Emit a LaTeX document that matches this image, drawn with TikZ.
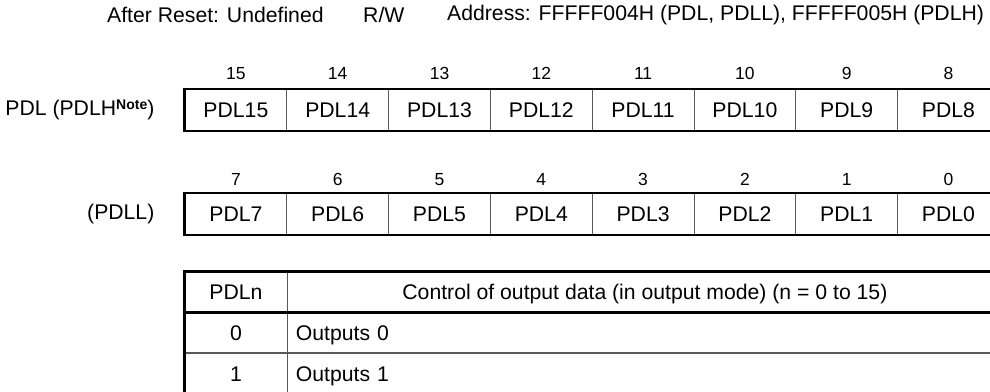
\documentclass[tikz,border=0pt]{standalone}
\usepackage{fontspec}
\setmainfont{Liberation Sans}
\usetikzlibrary{positioning}

\begin{document}
\begin{tikzpicture}[x=1pt, y=-1pt,
  txt/.style={inner sep=0pt, font=\fontsize{21.2}{24}\selectfont},
  cell/.style={draw=black!65, line width=0.9pt, minimum width=101.8pt, minimum height=41pt, inner sep=0pt, text depth=0pt, font=\fontsize{21.2}{24}\selectfont},
  bitno/.style={inner sep=0pt, text depth=0pt, font=\fontsize{17.5}{20}\selectfont},
  outer/.style={line width=2.4pt}]
  \useasboundingbox (0,0) rectangle (990,391);
  \clip (0,0) rectangle (990,391);
  \node[txt, anchor=west] (reset) at (107,15) {After Reset: Undefined};
  \node[txt, anchor=west] (rw) at (363,15) {R/W};
  \node[txt, anchor=west] (addr) at (447,15) {Address: FFFFF004H (PDL, PDLL), FFFFF005H (PDLH)};
  \foreach \i in {0,...,7} {
    \pgfmathtruncatemacro{\b}{15-\i}
    \pgfmathtruncatemacro{\c}{7-\i}
    \node[cell] (h\b) at ({185+(\i+0.5)*101.8}, 110) {PDL\b};
    \node[bitno, above=9pt of h\b] (nh\b) {\b};
    \node[cell] (l\c) at ({185+(\i+0.5)*101.8}, 214) {PDL\c};
    \node[bitno, above=7pt of l\c] (nl\c) {\c};
  }
  \draw[outer] (h15.north west) rectangle (h8.south east);
  \draw[outer] (l7.north west) rectangle (l0.south east);
  \node[txt, left=30pt of h15] (lblh) {PDL (PDLH\raisebox{6pt}{\fontsize{14}{16}\selectfont\bfseries Note})};
  \node[txt, left=30pt of l7] (lbll) {(PDLL)};
  \node[cell, minimum width=102pt, minimum height=40pt] (hda) at (236,292) {PDLn};
  \node[cell, minimum width=714pt, minimum height=40pt, right=0pt of hda] (hdb) {Control of output data (in output mode) (n = 0 to 15)};
  \node[cell, minimum width=102pt, minimum height=40pt, below=0pt of hda] (r0a) {0};
  \node[cell, minimum width=714pt, minimum height=40pt, right=0pt of r0a, text width=698pt, align=left] (r0b) {Outputs 0};
  \node[cell, minimum width=102pt, minimum height=40pt, below=0pt of r0a] (r1a) {1};
  \node[cell, minimum width=714pt, minimum height=40pt, right=0pt of r1a, text width=698pt, align=left] (r1b) {Outputs 1};
  \draw[outer] (hda.north west) rectangle (r1b.south east);
  \draw[outer] (hda.south west) -- (hdb.south east);
\end{tikzpicture}
\end{document}
